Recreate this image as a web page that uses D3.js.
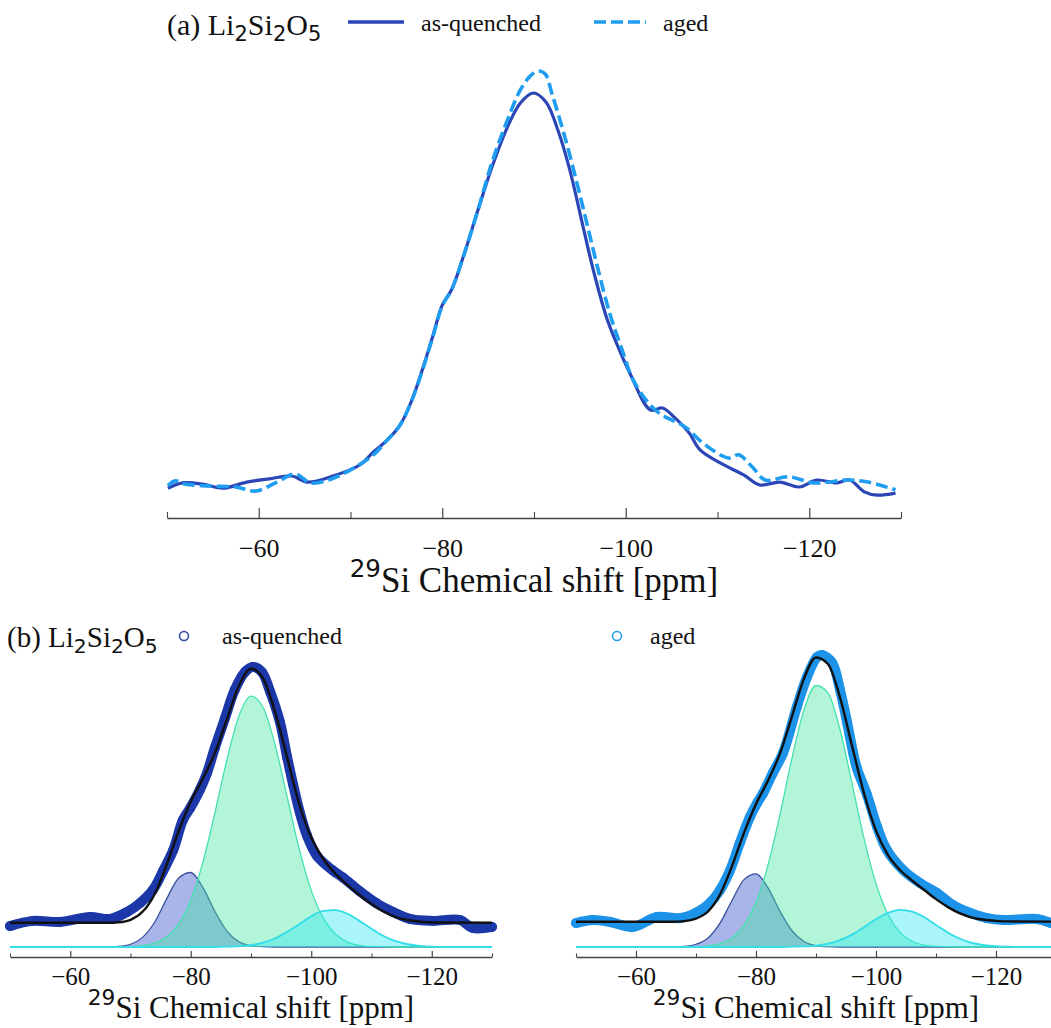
<!DOCTYPE html>
<html><head><meta charset="utf-8">
<script src="https://cdnjs.cloudflare.com/ajax/libs/d3/7.8.5/d3.min.js"></script>
<style>
body{margin:0;background:#fff;} svg{display:block;}
.serif{font-family:"Liberation Serif","Times New Roman",Times,serif;}
.sans{font-family:"DejaVu Sans",sans-serif;}
</style>
</head><body>
<svg id="chart" width="1051" height="1028"></svg>
<script>
// ---------------- DATA ----------------
const majorTicks = [-60, -80, -100, -120];
const minorTicks = [-50, -70, -90, -110, -130];
const shiftDomain = [-50, -130];

// (a) spectra: [ppm, normalised intensity]
const asQuenchedA = [[-50.1,0.029],[-51.7,0.042],[-53.9,0.039],[-56.1,0.029],[-58.7,0.044],[-61.2,0.052],[-63.6,0.059],[-65.3,0.044],[-68.1,0.059],[-71.0,0.086],[-72.5,0.118],[-74.0,0.147],[-75.4,0.184],[-76.7,0.246],[-78.0,0.332],[-79.0,0.405],[-80.0,0.479],[-81.0,0.516],[-82.3,0.598],[-83.9,0.713],[-85.5,0.823],[-87.2,0.921],[-88.5,0.975],[-89.9,1.0],[-91.3,0.978],[-92.6,0.909],[-93.9,0.811],[-95.3,0.676],[-96.6,0.553],[-98.0,0.442],[-99.3,0.369],[-100.4,0.314],[-102.7,0.221],[-104.0,0.226],[-105.4,0.201],[-106.9,0.165],[-108.1,0.123],[-110.3,0.091],[-112.9,0.061],[-114.6,0.037],[-116.8,0.044],[-118.9,0.032],[-120.8,0.049],[-123.0,0.042],[-124.4,0.049],[-126.0,0.020],[-127.4,0.012],[-129.4,0.017]];
const agedA = [[-50.1,0.035],[-50.9,0.047],[-52.0,0.039],[-55.0,0.034],[-57.5,0.032],[-59.7,0.022],[-62.0,0.044],[-64.0,0.064],[-65.6,0.042],[-67.6,0.049],[-70.0,0.074],[-72.5,0.111],[-74.0,0.147],[-75.4,0.184],[-76.7,0.246],[-78.0,0.330],[-79.0,0.403],[-80.0,0.477],[-81.0,0.516],[-82.3,0.598],[-83.9,0.713],[-85.5,0.835],[-87.2,0.939],[-88.5,1.007],[-89.6,1.042],[-90.4,1.054],[-91.2,1.047],[-92.0,0.995],[-93.3,0.897],[-94.6,0.786],[-95.8,0.676],[-97.0,0.565],[-98.3,0.455],[-99.6,0.369],[-100.7,0.300],[-102.2,0.246],[-103.6,0.214],[-106.5,0.179],[-108.4,0.140],[-111.2,0.103],[-112.3,0.111],[-113.8,0.081],[-115.2,0.049],[-117.7,0.057],[-120.6,0.042],[-124.2,0.049],[-126.4,0.044],[-129.4,0.025]];

// (b) measured data
const asQuenchedB = [[-50.0,0.076],[-53.8,0.095],[-58.3,0.091],[-63.3,0.109],[-66.6,0.102],[-69.4,0.127],[-71.6,0.160],[-73.7,0.207],[-75.4,0.276],[-77.1,0.353],[-78.7,0.462],[-79.9,0.505],[-81.5,0.571],[-82.7,0.633],[-84.0,0.724],[-85.7,0.833],[-87.3,0.935],[-89.0,1.000],[-90.3,1.018],[-91.8,1.000],[-93.2,0.927],[-94.8,0.818],[-96.0,0.690],[-97.0,0.590],[-98.1,0.490],[-99.3,0.405],[-101.0,0.330],[-103.6,0.278],[-105.3,0.252],[-108.1,0.202],[-110.9,0.158],[-113.6,0.127],[-116.4,0.102],[-120.2,0.095],[-124.7,0.098],[-126.8,0.069],[-130.0,0.073]];
const agedB = [[-50.0,0.087],[-52.8,0.098],[-55.7,0.091],[-59.5,0.073],[-63.5,0.109],[-67.3,0.105],[-70.2,0.127],[-72.3,0.160],[-74.0,0.207],[-75.7,0.280],[-77.3,0.378],[-79.0,0.473],[-80.2,0.524],[-81.2,0.560],[-82.8,0.633],[-84.5,0.705],[-86.8,0.873],[-88.5,0.982],[-90.2,1.055],[-91.0,1.062],[-92.7,1.033],[-94.0,0.935],[-95.2,0.815],[-96.2,0.705],[-96.8,0.651],[-98.5,0.553],[-100.2,0.436],[-101.8,0.353],[-104.5,0.280],[-107.3,0.233],[-110.2,0.196],[-112.8,0.153],[-115.7,0.124],[-118.5,0.105],[-121.2,0.098],[-126.8,0.102],[-129.2,0.087]];

// (b) fitted totals
const fitQuenched = [[-50,0.088],[-66,0.088],[-68,0.090],[-70,0.099],[-72,0.128],[-74,0.192],[-76,0.299],[-78,0.422],[-80,0.529],[-82,0.612],[-84,0.705],[-86,0.828],[-88,0.950],[-90,1.012],[-92,0.977],[-94,0.854],[-96,0.689],[-98,0.520],[-100,0.398],[-102,0.320],[-104,0.267],[-106,0.226],[-108,0.189],[-110,0.156],[-112,0.129],[-114,0.109],[-116,0.098],[-118,0.092],[-120,0.089],[-130,0.088]];
const fitAged = [[-50,0.092],[-66,0.092],[-68,0.094],[-70,0.103],[-72,0.129],[-74,0.191],[-76,0.294],[-78,0.415],[-80,0.520],[-82,0.605],[-84,0.704],[-86,0.839],[-88,0.976],[-90,1.053],[-92,1.029],[-94,0.908],[-96,0.732],[-98,0.559],[-100,0.423],[-102,0.334],[-104,0.280],[-106,0.242],[-108,0.208],[-110,0.174],[-112,0.145],[-114,0.122],[-116,0.107],[-118,0.099],[-120,0.095],[-122,0.093],[-130,0.092]];

// (b) fitted components
const q3Quenched = [[-50,0],[-64,0],[-66,0],[-68,0.002],[-70,0.010],[-72,0.035],[-74,0.090],[-76,0.175],[-78,0.251],[-80,0.271],[-82,0.217],[-84,0.130],[-86,0.058],[-88,0.019],[-90,0.005],[-92,0.001],[-94,0],[-130,0]];
const q4aQuenched = [[-50,0],[-66,0],[-68,0],[-70,0.001],[-72,0.005],[-74,0.014],[-76,0.036],[-78,0.083],[-80,0.170],[-82,0.307],[-84,0.487],[-86,0.681],[-88,0.840],[-90,0.912],[-92,0.872],[-94,0.735],[-96,0.546],[-98,0.357],[-100,0.206],[-102,0.105],[-104,0.047],[-106,0.018],[-108,0.006],[-110,0.002],[-112,0.001],[-114,0],[-130,0]];
const q4bQuenched = [[-50,0],[-84,0],[-86,0.001],[-88,0.003],[-90,0.007],[-92,0.016],[-94,0.031],[-96,0.055],[-98,0.083],[-100,0.112],[-102,0.131],[-104,0.134],[-106,0.121],[-108,0.095],[-110,0.066],[-112,0.040],[-114,0.021],[-116,0.010],[-118,0.004],[-120,0.001],[-122,0],[-130,0]];
const q3Aged = [[-50,0],[-66,0],[-68,0.002],[-70,0.010],[-72,0.033],[-74,0.087],[-76,0.169],[-78,0.245],[-80,0.266],[-82,0.215],[-84,0.130],[-86,0.059],[-88,0.020],[-90,0.005],[-92,0.001],[-94,0],[-130,0]];
const q4aAged = [[-50,0],[-68,0],[-70,0.001],[-72,0.004],[-74,0.012],[-76,0.033],[-78,0.078],[-80,0.162],[-82,0.298],[-84,0.482],[-86,0.687],[-88,0.862],[-90,0.951],[-92,0.924],[-94,0.791],[-96,0.595],[-98,0.395],[-100,0.230],[-102,0.118],[-104,0.053],[-106,0.021],[-108,0.007],[-110,0.002],[-112,0.001],[-114,0],[-130,0]];
const q4bAged = [[-50,0],[-84,0],[-86,0.001],[-88,0.002],[-90,0.005],[-92,0.012],[-94,0.025],[-96,0.045],[-98,0.072],[-100,0.101],[-102,0.124],[-104,0.135],[-106,0.129],[-108,0.109],[-110,0.080],[-112,0.052],[-114,0.030],[-116,0.015],[-118,0.007],[-120,0.003],[-122,0.001],[-124,0],[-130,0]];

const legendLabels = ["as-quenched", "aged"];

// ---------------- DRAWING ----------------
const svg = d3.select('#chart');

function richText(x, y, size, anchor, parts) {
  const t = svg.append('text').attr('x', x).attr('y', y).attr('class', 'serif')
    .attr('text-anchor', anchor).style('font-size', size + 'px').attr('fill', '#111');
  let cur = 0;
  parts.forEach(p => {
    let off = 0, fs = size, cls = 'serif';
    if (p.sub) { off = 0.2 * size; fs = size * 0.7; cls = 'sans'; }
    if (p.sup) { off = -0.42 * size; fs = size * 0.7; cls = 'sans'; }
    t.append('tspan').attr('dy', off - cur).attr('class', cls).style('font-size', fs + 'px').text(p.t);
    cur = off;
  });
  return t;
}
function plainText(x, y, size, str) {
  return svg.append('text').attr('x', x).attr('y', y).attr('class', 'serif')
    .style('font-size', size + 'px').attr('fill', '#111').text(str);
}
const formula = (prefix) => [{t: prefix + " Li"}, {t: "2", sub: true}, {t: "Si"}, {t: "2", sub: true}, {t: "O"}, {t: "5", sub: true}];
const xlabelParts = [{t: "29", sup: true}, {t: "Si Chemical shift [ppm]"}];

function drawAxis(x, yPos, majorLen, minorLen, fontSize, pad) {
  const g = svg.append('g').attr('transform', `translate(0,${yPos})`)
    .call(d3.axisBottom(x).tickValues(majorTicks).tickSize(-majorLen).tickSizeOuter(0).tickPadding(pad)
      .tickFormat(d => '\u2212' + Math.abs(d)));
  g.attr('font-family', null).attr('font-size', null);
  g.select('.domain').attr('stroke', '#444').attr('stroke-width', 1.3);
  g.selectAll('.tick line').attr('stroke', '#444').attr('stroke-width', 1.2);
  g.selectAll('.tick text').attr('class', 'serif').style('font-size', fontSize + 'px').attr('fill', '#111');
  const gm = svg.append('g').attr('transform', `translate(0,${yPos})`)
    .call(d3.axisBottom(x).tickValues(minorTicks).tickSize(-minorLen).tickSizeOuter(0).tickFormat(''));
  gm.select('.domain').remove();
  gm.selectAll('.tick line').attr('stroke', '#444').attr('stroke-width', 1.1);
}

// ---- panel (a)
const xA = d3.scaleLinear().domain(shiftDomain).range([167, 901]);
const yA = d3.scaleLinear().domain([0, 1]).range([500, 93]);
const lineA = d3.line().x(d => xA(d[0])).y(d => yA(d[1])).curve(d3.curveCatmullRom.alpha(0.5));
const colQ = '#2b46b6', colAged = '#1f9df0';
svg.append('path').datum(asQuenchedA).attr('d', lineA).attr('fill', 'none')
  .attr('stroke', colQ).attr('stroke-width', 3.2).attr('stroke-linejoin', 'round');
svg.append('path').datum(agedA).attr('d', lineA).attr('fill', 'none')
  .attr('stroke', colAged).attr('stroke-width', 3.6).attr('stroke-dasharray', '12,5');
drawAxis(xA, 518, 10, 6, 26, 21);
richText((167 + 901) / 2, 592, 35, 'middle', xlabelParts);

// legend (a)
richText(167, 35, 30, 'start', formula('(a)'));
svg.append('line').attr('x1', 348).attr('x2', 404).attr('y1', 22).attr('y2', 22).attr('stroke', colQ).attr('stroke-width', 3.5);
plainText(421, 31, 24, legendLabels[0]);
svg.append('line').attr('x1', 594).attr('x2', 646).attr('y1', 22).attr('y2', 22).attr('stroke', colAged).attr('stroke-width', 3.6).attr('stroke-dasharray', '12,5');
plainText(663, 31, 24, legendLabels[1]);

// ---- panel (b)
const yB = d3.scaleLinear().domain([0, 1]).range([947, 672]);
const compStyles = [
  {fill: 'rgba(40,70,200,0.4)', stroke: '#3a4f9e'},
  {fill: 'rgba(64,230,160,0.4)', stroke: '#44e2b0'},
  {fill: 'rgba(40,230,240,0.4)', stroke: '#30dde8'}
];
function drawPanelB(x, comps, data, fit, col) {
  const area = d3.area().x(d => x(d[0])).y0(yB(0)).y1(d => yB(d[1])).curve(d3.curveMonotoneX);
  const cl = d3.line().x(d => x(d[0])).y(d => yB(d[1])).curve(d3.curveMonotoneX);
  comps.forEach((c, i) => {
    svg.append('path').datum(c).attr('d', area).attr('fill', compStyles[i].fill).attr('stroke', 'none');
    svg.append('path').datum(c).attr('d', cl).attr('fill', 'none').attr('stroke', compStyles[i].stroke).attr('stroke-width', i === 2 ? 1.8 : 1.3);
  });
  const dl = d3.line().x(d => x(d[0])).y(d => yB(d[1])).curve(d3.curveCatmullRom.alpha(0.5));
  svg.append('path').datum(data).attr('d', dl).attr('fill', 'none').attr('stroke', col)
    .attr('stroke-width', 10).attr('stroke-linecap', 'round').attr('stroke-linejoin', 'round');
  svg.append('g').selectAll('circle').data(data).join('circle')
    .attr('cx', d => x(d[0])).attr('cy', d => yB(d[1])).attr('r', 4.2)
    .attr('fill', 'none').attr('stroke', col).attr('stroke-width', 1.5);
  svg.append('path').datum(fit).attr('d', cl).attr('fill', 'none').attr('stroke', '#111').attr('stroke-width', 2.4);
}
const xBL = d3.scaleLinear().domain(shiftDomain).range([10, 492]);
const xBR = d3.scaleLinear().domain(shiftDomain).range([576, 1056]);
const colQB = '#1c38a8', colAB = '#1c93e8';
drawPanelB(xBL, [q3Quenched, q4aQuenched, q4bQuenched], asQuenchedB, fitQuenched, colQB);
drawPanelB(xBR, [q3Aged, q4aAged, q4bAged], agedB, fitAged, colAB);
drawAxis(xBL, 957, 6, 3.5, 25, 10);
drawAxis(xBR, 957, 6, 3.5, 25, 10);
richText((10 + 492) / 2, 1018, 31, 'middle', xlabelParts);
richText((576 + 1056) / 2, 1018, 31, 'middle', xlabelParts);

// legend (b)
richText(7, 647, 29, 'start', formula('(b)'));
svg.append('circle').attr('cx', 184).attr('cy', 636).attr('r', 4.5).attr('fill', 'none').attr('stroke', '#2a45a8').attr('stroke-width', 1.5);
plainText(222, 644, 24, legendLabels[0]);
svg.append('circle').attr('cx', 617).attr('cy', 636).attr('r', 4.5).attr('fill', 'none').attr('stroke', '#1c9be8').attr('stroke-width', 1.5);
plainText(650, 644, 24, legendLabels[1]);
</script>
</body></html>
